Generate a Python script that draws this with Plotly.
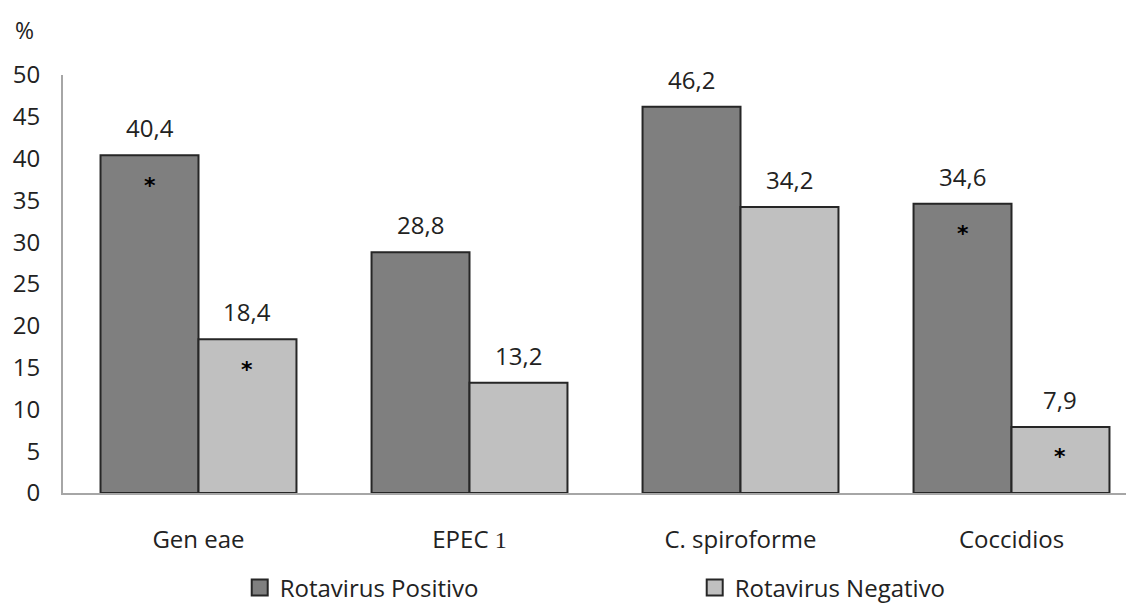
import plotly.graph_objects as go

categories = ["Gen eae", "EPEC 1", "C. spiroforme", "Coccidios"]
cat_labels = ["Gen eae", "EPEC <span style='font-family:Liberation Serif'>1</span>", "C. spiroforme", "Coccidios"]
positivo = [40.4, 28.8, 46.2, 34.6]
negativo = [18.4, 13.2, 34.2, 7.9]
sig_pos = [True, False, False, True]
sig_neg = [True, False, False, True]
series_names = ["Rotavirus Positivo", "Rotavirus Negativo"]
y_ticks = [0, 5, 10, 15, 20, 25, 30, 35, 40, 45, 50]

DARK = "#7f7f7f"
LIGHT = "#c0c0c0"
EDGE = "#262626"
TXT = "#222222"
FONT = "Open Sans"
BARGAP = 0.277

fig = go.Figure()
fig.add_trace(go.Bar(x=categories, y=positivo, name=series_names[0], marker=dict(color=DARK, line=dict(color=EDGE, width=2)), showlegend=False))
fig.add_trace(go.Bar(x=categories, y=negativo, name=series_names[1], marker=dict(color=LIGHT, line=dict(color=EDGE, width=2)), showlegend=False))

# legend entries
for nm, col in zip(series_names, [DARK, LIGHT]):
    fig.add_trace(go.Scatter(x=[None], y=[None], mode="markers", name=nm,
                             marker=dict(symbol="square", size=16, color=col, line=dict(color=EDGE, width=2))))

off = (1 - BARGAP) / 4
ann = []
for i, (p, n) in enumerate(zip(positivo, negativo)):
    for val, dx, sig in [(p, -off, sig_pos[i]), (n, off, sig_neg[i])]:
        ann.append(dict(x=i + dx, y=val, xref="x", yref="y", text=f"{val:.1f}".replace(".", ","),
                        showarrow=False, yanchor="bottom", yshift=9,
                        font=dict(family=FONT, size=24, color=TXT)))
        if sig:
            ann.append(dict(x=i + dx, y=val, xref="x", yref="y", text="<b>*</b>", showarrow=False,
                            yanchor="middle", yshift=-30, font=dict(family="DejaVu Sans", size=22, color="black")))
ann.append(dict(x=-0.0355, y=1.108, xref="paper", yref="paper", text="%", showarrow=False,
                xanchor="center", yanchor="middle", font=dict(family=FONT, size=23, color=TXT)))

fig.update_layout(
    width=1134, height=603,
    margin=dict(l=55, r=8, t=67, b=118, autoexpand=False),
    paper_bgcolor="white", plot_bgcolor="white",
    barmode="group", bargap=BARGAP, bargroupgap=0,
    annotations=ann,
    legend=dict(orientation="h", x=0.165, y=-0.227, xanchor="left", yanchor="middle",
                font=dict(family=FONT, size=24, color=TXT), entrywidth=410, itemsizing="trace"),
    xaxis=dict(range=[-0.5, 3.452], tickvals=categories, ticktext=cat_labels, showline=True, linecolor="#a6a6a6", linewidth=2,
               showgrid=False, ticks="", ticklabelstandoff=24, tickfont=dict(family=FONT, size=24, color=TXT), zeroline=False),
    yaxis=dict(range=[0, 50], tickvals=y_ticks, showline=True, linecolor="#a6a6a6", linewidth=2,
               showgrid=False, ticks="", ticklabelstandoff=16, tickfont=dict(family=FONT, size=24, color=TXT), zeroline=False),
)

fig.write_html("out.html")
